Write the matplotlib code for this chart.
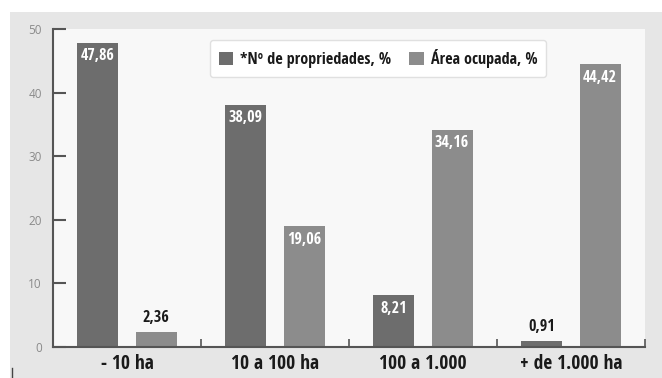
import numpy as np
import matplotlib
matplotlib.use('Agg')
import matplotlib.pyplot as plt
from matplotlib.patches import Rectangle
from matplotlib.lines import Line2D

# Data
categorias = ['- 10 ha', '10 a 100 ha', '100 a 1.000', '+ de 1.000 ha']
n_propriedades = [47.86, 38.09, 8.21, 0.91]
area_ocupada = [2.36, 19.06, 34.16, 44.42]
rotulos_prop = ['47,86', '38,09', '8,21', '0,91']
rotulos_area = ['2,36', '19,06', '34,16', '44,42']
series = ['*Nº de propriedades, %', 'Área ocupada, %']
yticks = [0, 10, 20, 30, 40, 50]

plt.rcParams['font.family'] = ['Open Sans Condensed', 'DejaVu Sans']

fig = plt.figure(figsize=(6.62, 3.78), dpi=100)
fig.patch.set_facecolor('white')
# gray panel behind the chart
fig.patches.append(Rectangle((10/662, 0), 652/662, 366/378, transform=fig.transFigure,
                             facecolor='#e6e6e6', edgecolor='none', zorder=-5))
fig.lines.append(Line2D([12/662, 12/662], [0, 10/378], transform=fig.transFigure,
                        color='#444444', lw=1))

ax = fig.add_axes([53/662, 1-347/378, 592/662, 318/378])
ax.set_facecolor('#f8f8f8')

x = np.arange(len(categorias))
w = 0.277
off = 0.196
c_prop = '#6d6d6d'
c_area = '#8c8c8c'
ax.bar(x - off, n_propriedades, w, color=c_prop, label=series[0], zorder=2)
ax.bar(x + off, area_ocupada, w, color=c_area, label=series[1], zorder=2)

for pos, vals, rots in [(x - off, n_propriedades, rotulos_prop), (x + off, area_ocupada, rotulos_area)]:
    for xi, v, t in zip(pos, vals, rots):
        if v > 5:
            ax.text(xi, v - 0.9, t, ha='center', va='top', color='white', fontsize=11.5,
                    fontweight='bold', zorder=3)
        else:
            ax.text(xi, v + 1.0, t, ha='center', va='bottom', color='#1a1a1a', fontsize=11.5,
                    fontweight='bold', zorder=3)

ax.set_xlim(-0.5, len(categorias) - 0.5)
ax.set_ylim(0, 50)
ax.set_yticks(yticks)
ax.set_yticklabels([str(v) for v in yticks], family='Open Sans')
ax.tick_params(axis='y', direction='in', length=9, width=1.5, color='#555555',
               labelcolor='#8a8a8a', labelsize=8.5, pad=8)
ax.set_xticks(x)
ax.set_xticklabels(categorias, fontsize=14, fontweight='bold', color='#1a1a1a')
ax.tick_params(axis='x', length=0, pad=5)
ax.set_xticks(np.arange(0.5, len(categorias), 1), minor=True)
ax.tick_params(axis='x', which='minor', direction='in', length=6, width=1.2, color='#555555')
for s in ['top', 'right']:
    ax.spines[s].set_visible(False)
for s in ['left', 'bottom']:
    ax.spines[s].set_color('#555555')
    ax.spines[s].set_linewidth(1.5)

leg = ax.legend(loc='upper center', bbox_to_anchor=(0.549, 0.99), ncol=2, frameon=True,
                prop={'family': 'Open Sans Condensed', 'weight': 'bold', 'size': 11.6},
                handlelength=0.9, handleheight=0.9, handletextpad=0.45,
                columnspacing=1.1, borderpad=0.55, fancybox=True, framealpha=1)
leg.get_frame().set_facecolor('white')
leg.get_frame().set_edgecolor('#e0e0e0')
for t in leg.get_texts():
    t.set_color('#1a1a1a')

fig.savefig('out.png', dpi=100)
